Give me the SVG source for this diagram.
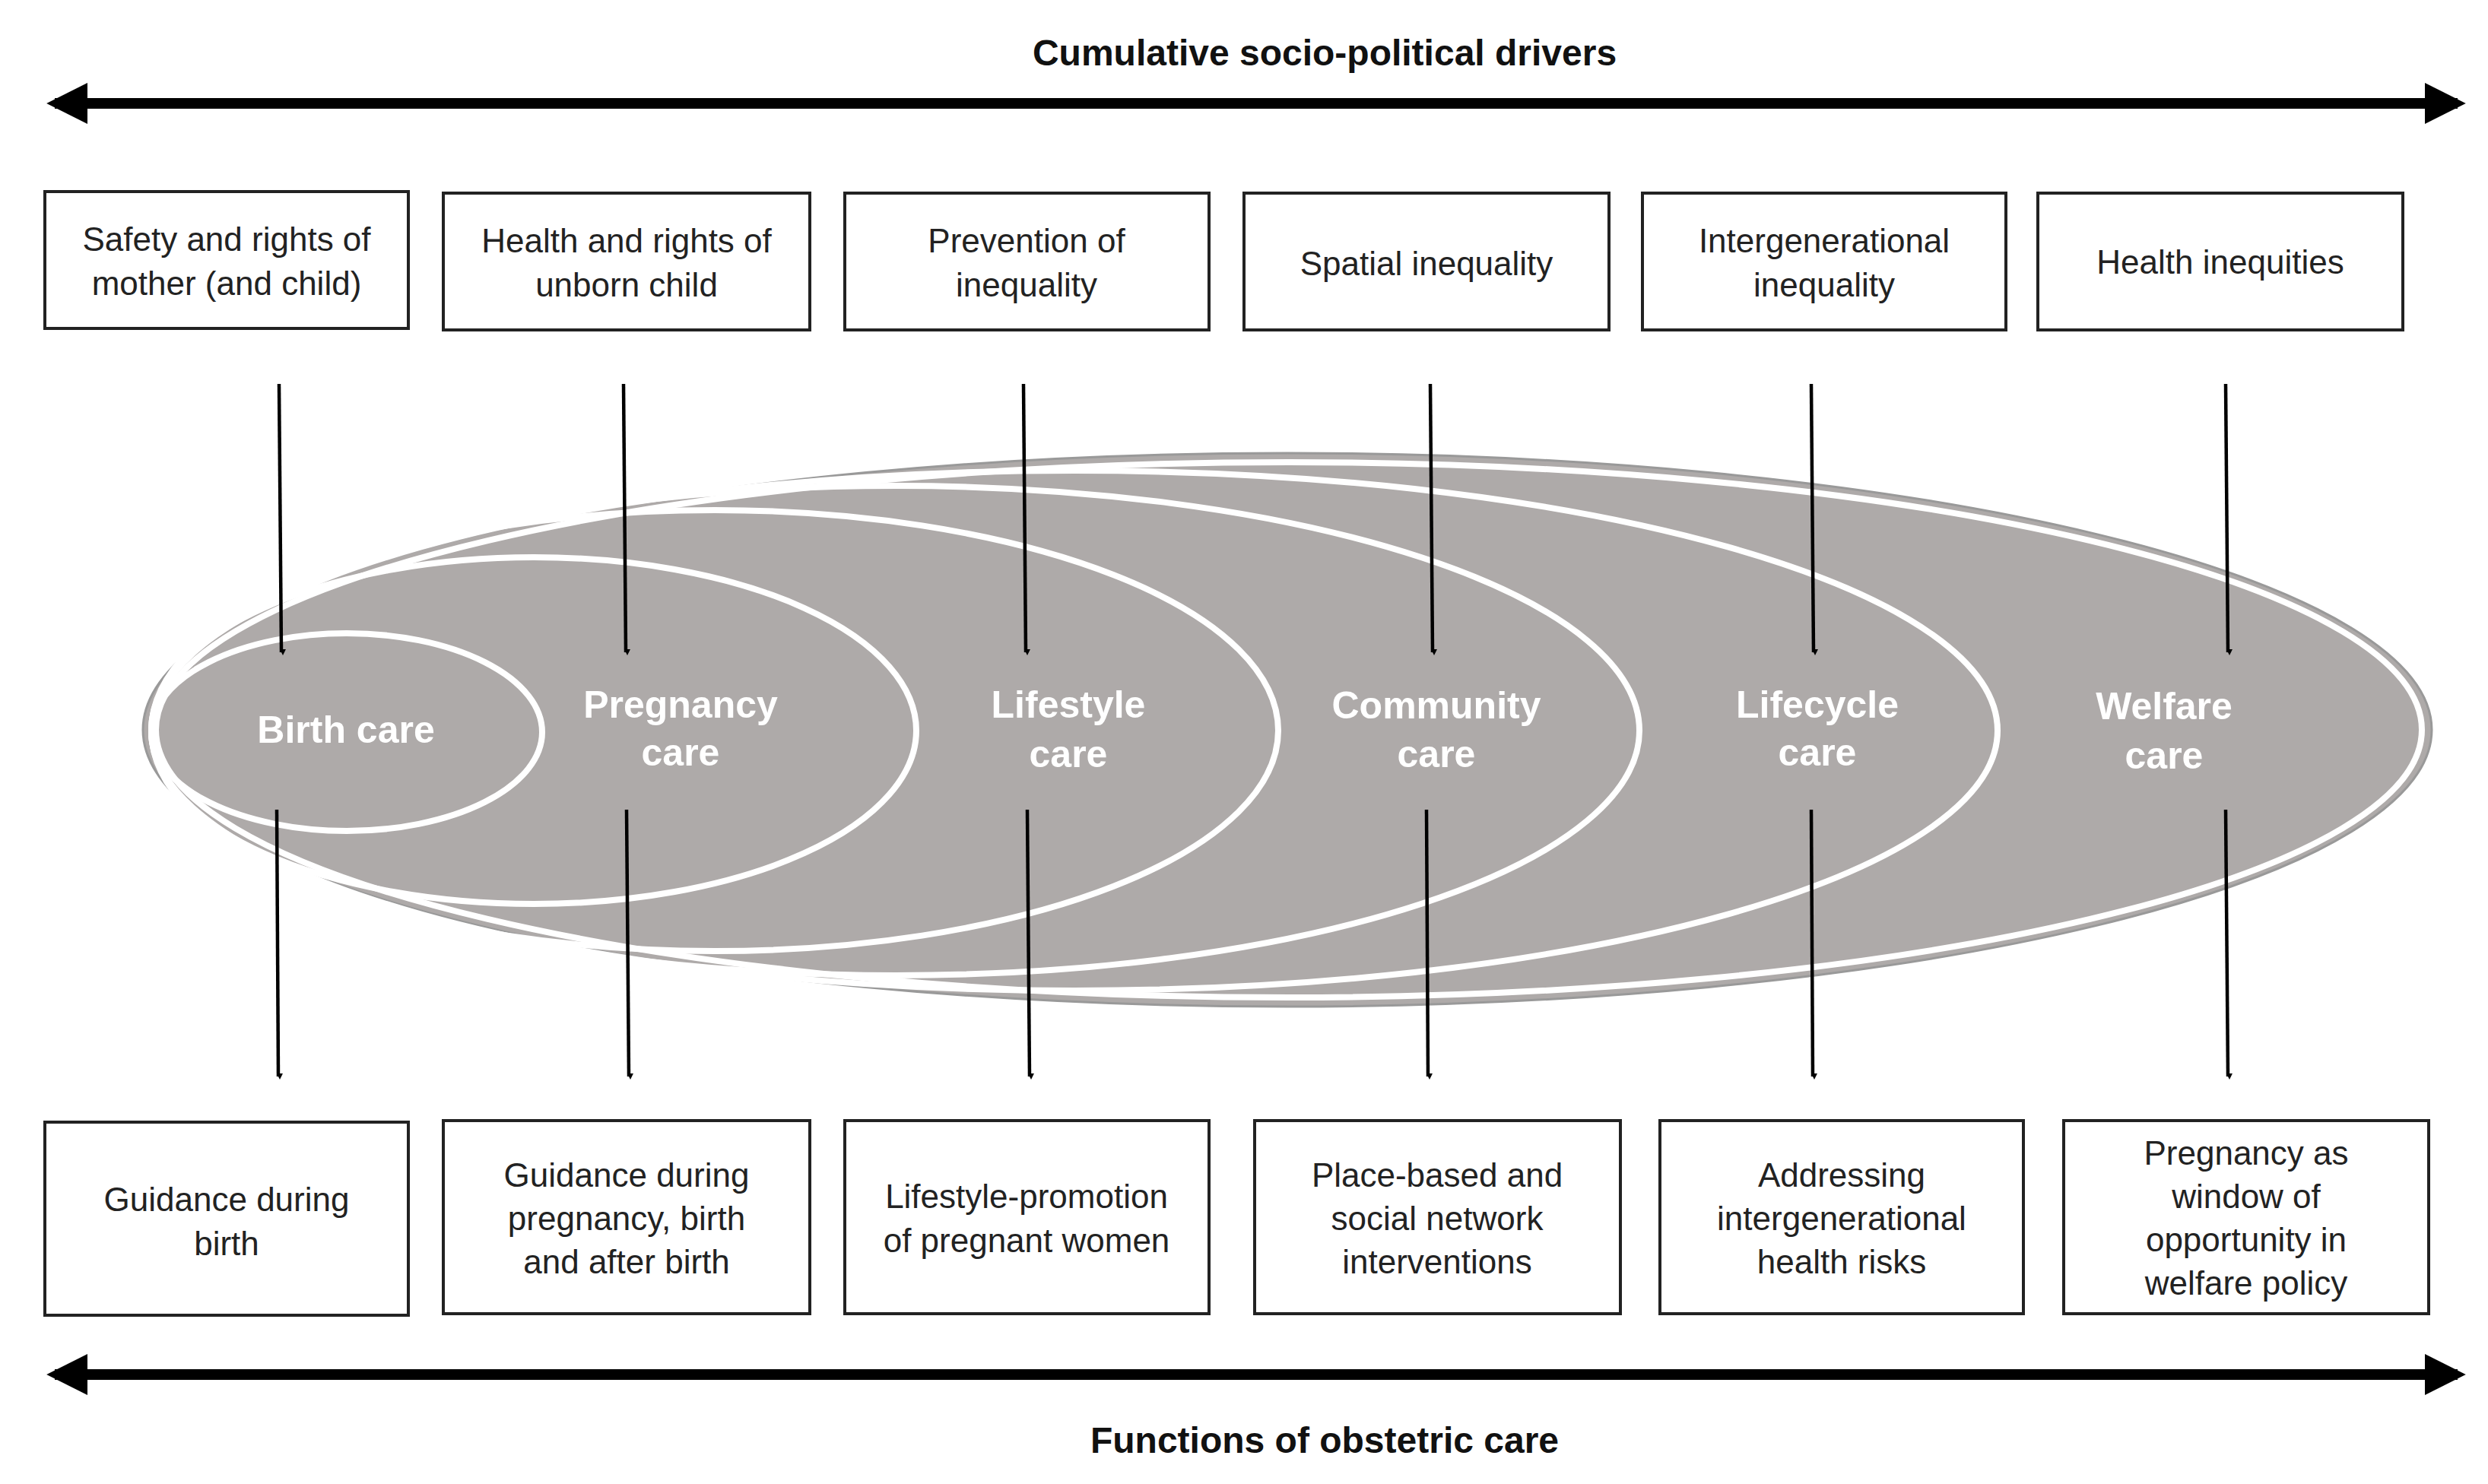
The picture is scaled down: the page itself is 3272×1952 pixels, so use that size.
<svg xmlns="http://www.w3.org/2000/svg" width="3272" height="1952" viewBox="0 0 3272 1952">
<style>
.box{fill:#fff;stroke:#222;stroke-width:4}
.t{font-family:"Liberation Sans",Arial,sans-serif;font-size:44px;fill:#222;text-anchor:middle;dominant-baseline:central}
.h{font-family:"Liberation Sans",Arial,sans-serif;font-size:48px;font-weight:bold;fill:#111;text-anchor:middle;dominant-baseline:central}
.c{font-family:"Liberation Sans",Arial,sans-serif;font-size:50px;font-weight:bold;fill:#fff;text-anchor:middle;dominant-baseline:central}
.ring{fill:none;stroke:#fff;stroke-width:8}
.ar{stroke:#000;stroke-width:4.5;fill:none;marker-end:url(#a)}
.big{stroke:#000;stroke-width:14;fill:none;marker-end:url(#b);marker-start:url(#bs)}
</style>
<defs>
<marker id="a" markerWidth="8" markerHeight="8" refX="4" refY="6" orient="auto" markerUnits="userSpaceOnUse" viewBox="0 0 8 8"><path d="M0,0 L8,0 L4,8 z" transform="rotate(-90 4 4)"/></marker>
<marker id="b" viewBox="0 0 10 10" refX="8" refY="5" markerWidth="54" markerHeight="54" markerUnits="userSpaceOnUse" orient="auto"><path d="M0,0 L10,5 L0,10 z"/></marker>
<marker id="bs" viewBox="0 0 10 10" refX="2" refY="5" markerWidth="54" markerHeight="54" markerUnits="userSpaceOnUse" orient="auto"><path d="M10,0 L0,5 L10,10 z"/></marker>
</defs>
<rect width="3272" height="1952" fill="#fff"/>
<text class="h" x="1742" y="69">Cumulative socio-political drivers</text>
<text class="h" x="1742" y="1894">Functions of obstetric care</text>
<g id="ellipses">
<ellipse cx="1693" cy="960" rx="1505" ry="364" fill="#aeaaa9" stroke="#999" stroke-width="3"/>
<ellipse class="ring" cx="1695" cy="960" rx="1490" ry="352"/>
<ellipse class="ring" cx="1413" cy="961" rx="1214" ry="342"/>
<ellipse class="ring" cx="1178" cy="961" rx="978" ry="322"/>
<ellipse class="ring" cx="940" cy="961" rx="741" ry="290"/>
<ellipse class="ring" cx="702" cy="961" rx="503" ry="228"/>
<ellipse class="ring" cx="456" cy="963" rx="257" ry="130"/>
</g>
<g id="labels">
<text class="c" x="455" y="960">Birth care</text>
<text class="c" x="895" y="927">Pregnancy</text><text class="c" x="895" y="990">care</text>
<text class="c" x="1405" y="927">Lifestyle</text><text class="c" x="1405" y="992">care</text>
<text class="c" x="1889" y="928">Community</text><text class="c" x="1889" y="992">care</text>
<text class="c" x="2390" y="927">Lifecycle</text><text class="c" x="2390" y="990">care</text>
<text class="c" x="2846" y="929">Welfare</text><text class="c" x="2846" y="994">care</text>
</g>
<g id="connectors">
<line class="big" x1="72" y1="136" x2="3232" y2="136"/>
<line class="big" x1="72" y1="1808" x2="3232" y2="1808"/>
<line class="ar" x1="367" y1="505" x2="370" y2="858"/>
<line class="ar" x1="820" y1="505" x2="823" y2="858"/>
<line class="ar" x1="1346" y1="505" x2="1349" y2="858"/>
<line class="ar" x1="1881" y1="505" x2="1884" y2="858"/>
<line class="ar" x1="2382" y1="505" x2="2385" y2="858"/>
<line class="ar" x1="2927" y1="505" x2="2930" y2="858"/>
<line class="ar" x1="364" y1="1065" x2="366" y2="1416"/>
<line class="ar" x1="824" y1="1065" x2="827" y2="1416"/>
<line class="ar" x1="1351" y1="1065" x2="1354" y2="1416"/>
<line class="ar" x1="1876" y1="1065" x2="1878" y2="1416"/>
<line class="ar" x1="2382" y1="1065" x2="2384" y2="1416"/>
<line class="ar" x1="2927" y1="1065" x2="2930" y2="1416"/>
</g>
<g id="top1"><rect class="box" x="59" y="252" width="478" height="180"/><text class="t" x="298" y="314">Safety and rights of</text><text class="t" x="298" y="372">mother (and child)</text></g>
<g id="top2"><rect class="box" x="583" y="254" width="482" height="180"/><text class="t" x="824" y="316">Health and rights of</text><text class="t" x="824" y="374">unborn child</text></g>
<g id="top3"><rect class="box" x="1111" y="254" width="479" height="180"/><text class="t" x="1350" y="316">Prevention of</text><text class="t" x="1350" y="374">inequality</text></g>
<g id="top4"><rect class="box" x="1636" y="254" width="480" height="180"/><text class="t" x="1876" y="346">Spatial inequality</text></g>
<g id="top5"><rect class="box" x="2160" y="254" width="478" height="180"/><text class="t" x="2399" y="316">Intergenerational</text><text class="t" x="2399" y="374">inequality</text></g>
<g id="top6"><rect class="box" x="2680" y="254" width="480" height="180"/><text class="t" x="2920" y="344">Health inequities</text></g>
<g id="bot1"><rect class="box" x="59" y="1476" width="478" height="254"/><text class="t" x="298" y="1577">Guidance during</text><text class="t" x="298" y="1635">birth</text></g>
<g id="bot2"><rect class="box" x="583" y="1474" width="482" height="254"/><text class="t" x="824" y="1545">Guidance during</text><text class="t" x="824" y="1602">pregnancy, birth</text><text class="t" x="824" y="1659">and after birth</text></g>
<g id="bot3"><rect class="box" x="1111" y="1474" width="479" height="254"/><text class="t" x="1350" y="1573">Lifestyle-promotion</text><text class="t" x="1350" y="1631">of pregnant women</text></g>
<g id="bot4"><rect class="box" x="1650" y="1474" width="481" height="254"/><text class="t" x="1890" y="1545">Place-based and</text><text class="t" x="1890" y="1602">social network</text><text class="t" x="1890" y="1659">interventions</text></g>
<g id="bot5"><rect class="box" x="2183" y="1474" width="478" height="254"/><text class="t" x="2422" y="1545">Addressing</text><text class="t" x="2422" y="1602">intergenerational</text><text class="t" x="2422" y="1659">health risks</text></g>
<g id="bot6"><rect class="box" x="2714" y="1474" width="480" height="254"/><text class="t" x="2954" y="1516">Pregnancy as</text><text class="t" x="2954" y="1573">window of</text><text class="t" x="2954" y="1630">opportunity in</text><text class="t" x="2954" y="1687">welfare policy</text></g>
</svg>
